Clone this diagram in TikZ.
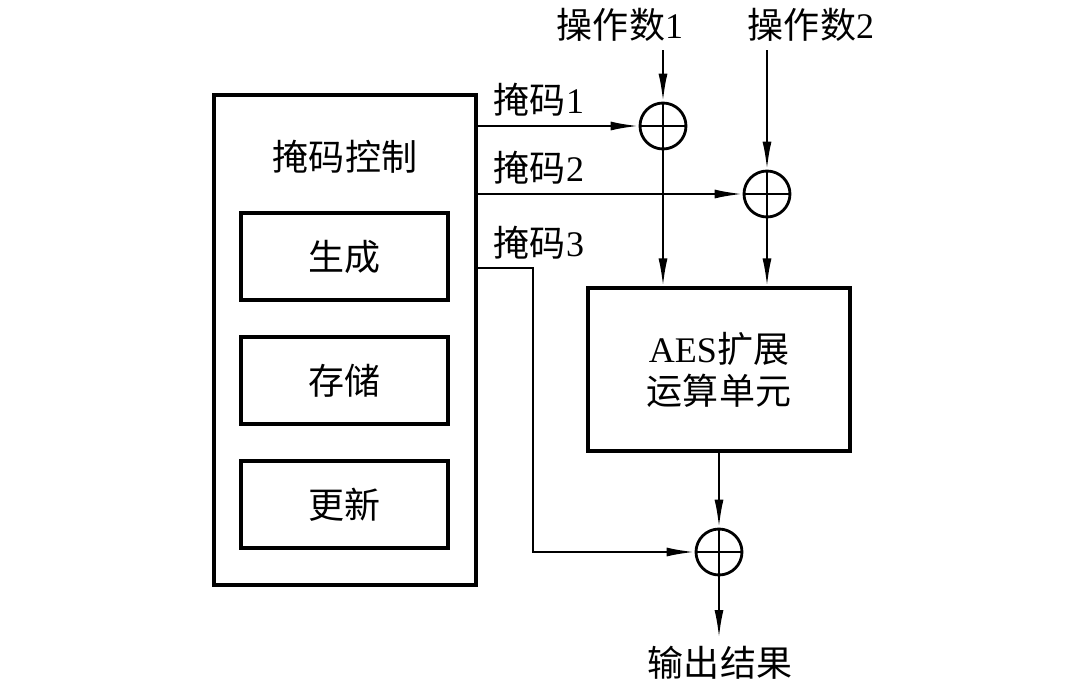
\documentclass[tikz,border=0pt]{standalone}
\usepackage{fontspec}
\setmainfont{Liberation Serif}
\newfontfamily\cjk{Noto Sans CJK SC}
\usetikzlibrary{arrows.meta,calc}

\begin{document}
\begin{tikzpicture}[x=0.02cm,y=-0.02cm,
                    every node/.style={font=\fontsize{20.5}{24}\selectfont},
                    box/.style={draw,line width=1.8pt,inner sep=0pt},
                    xor/.style={draw,circle,line width=1.6pt,minimum size=0.92cm,inner sep=0pt,
                      path picture={\draw[line width=1.3pt]
                        (path picture bounding box.north) -- (path picture bounding box.south)
                        (path picture bounding box.west) -- (path picture bounding box.east);}},
                    conn/.style={line width=1.25pt,-{Latex[length=5.6mm,width=1.8mm]}}]
  \useasboundingbox (0,0) rectangle (1080,687);

  % mask control block
  \node[box,minimum width=5.24cm,minimum height=9.8cm] (mask) at (345,340) {};
  \node (masktitle) at (345,157) {\cjk 掩码控制};
  \node[box,minimum width=4.14cm,minimum height=1.74cm] (gen) at (344.5,256.5) {\cjk 生成};
  \node[box,minimum width=4.14cm,minimum height=1.74cm] (store) at (344.5,380.5) {\cjk 存储};
  \node[box,minimum width=4.14cm,minimum height=1.74cm] (upd) at (344.5,504.5) {\cjk 更新};

  % AES unit and xor gates
  \node[box,minimum width=5.24cm,minimum height=3.26cm,align=center] (aes) at (719,369.5)
    {AES{\cjk 扩展}\\{\cjk 运算单元}};
  \node[xor] (xor1) at (663,126) {};
  \node[xor] (xor2) at (767,194) {};
  \node[xor] (xor3) at (719,552) {};

  % labels
  \node (op1) at (620,25) {{\cjk 操作数}1};
  \node (op2) at (811,25) {{\cjk 操作数}2};
  \node (mk1) at (539,100) {{\cjk 掩码}1};
  \node (mk2) at (539,168) {{\cjk 掩码}2};
  \node (mk3) at (539,243) {{\cjk 掩码}3};
  \node (out) at (720,663) {\cjk 输出结果};

  \coordinate (in1) at (663,50);
  \coordinate (in2) at (767,50);
  \coordinate (bend3) at (533,268);
  \coordinate (outend) at (719,638);

  \draw[conn] (in1) -- (xor1);
  \draw[conn] (in2) -- (xor2);
  \draw[conn] (mask.east |- xor1) -- (xor1);
  \draw[conn] (mask.east |- xor2) -- (xor2);
  \draw[conn] (xor1) -- (xor1 |- aes.north);
  \draw[conn] (xor2) -- (xor2 |- aes.north);
  \draw[conn] (mask.east |- bend3) -- (bend3) |- (xor3);
  \draw[conn] (aes) -- (xor3);
  \draw[conn] (xor3) -- (outend);
\end{tikzpicture}
\end{document}
